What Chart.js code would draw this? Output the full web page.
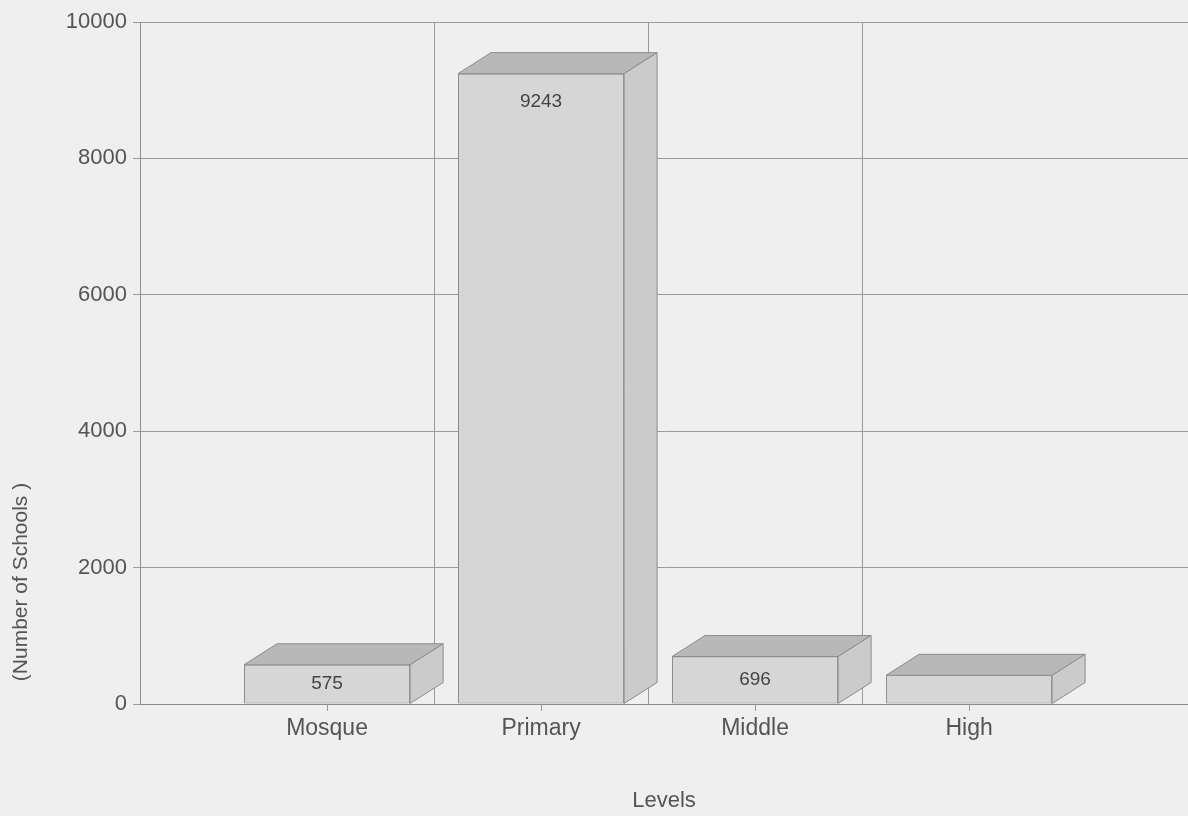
<!DOCTYPE html>
<html>
<head>
<meta charset="utf-8">
<script src="https://cdn.jsdelivr.net/npm/chart.js@4.4.1/dist/chart.umd.min.js"></script>
<style>
  html, body { margin: 0; padding: 0; background: #eeeeee; }
  canvas { display: block; }
</style>
</head>
<body>
<canvas id="c" width="1188" height="816"></canvas>
<script>
// ---- data ----
const categories = ['Mosque', 'Primary', 'Middle', 'High'];
const schoolCounts = [575, 9243, 696, 420];
const showValueLabel = [true, true, true, false];
const yTicks = [0, 2000, 4000, 6000, 8000, 10000];
const yTitle = '(Number of Schools )';
const xTitle = 'Levels';

// ---- style ----
const BG = '#efefef';
const TEXT = '#555555';
const GRID = '#9a9a9a';
const EDGE = '#8c8c8c';
const FRONT = '#d6d6d6';
const TOP = '#b8b8b8';
const SIDE = '#cbcbcb';
const DEPTH_X = 33, DEPTH_Y = -21;
const FONT = "'Liberation Sans', Arial, sans-serif";

const bgPlugin = {
  id: 'bg',
  beforeDraw(chart) {
    const ctx = chart.ctx;
    ctx.save();
    ctx.fillStyle = BG;
    ctx.fillRect(0, 0, chart.width, chart.height);
    ctx.restore();
  }
};

const bar3dPlugin = {
  id: 'bar3d',
  afterDatasetsDraw(chart) {
    const ctx = chart.ctx;
    const meta = chart.getDatasetMeta(0);
    ctx.save();
    ctx.lineWidth = 1;
    ctx.strokeStyle = EDGE;
    ctx.lineJoin = 'miter';
    meta.data.forEach((bar, i) => {
      const p = bar.getProps(['x', 'y', 'base', 'width'], true);
      const l = p.x - p.width / 2, r = p.x + p.width / 2;
      const t = p.y, b = p.base;
      // top face
      ctx.beginPath();
      ctx.moveTo(l, t);
      ctx.lineTo(l + DEPTH_X, t + DEPTH_Y);
      ctx.lineTo(r + DEPTH_X, t + DEPTH_Y);
      ctx.lineTo(r, t);
      ctx.closePath();
      ctx.fillStyle = TOP;
      ctx.fill();
      ctx.stroke();
      // side face
      ctx.beginPath();
      ctx.moveTo(r, t);
      ctx.lineTo(r + DEPTH_X, t + DEPTH_Y);
      ctx.lineTo(r + DEPTH_X, b + DEPTH_Y);
      ctx.lineTo(r, b);
      ctx.closePath();
      ctx.fillStyle = SIDE;
      ctx.fill();
      ctx.stroke();
      // value label
      if (showValueLabel[i]) {
        const ly = Math.min((t + b) / 2, t + 28);
        ctx.fillStyle = '#444444';
        ctx.font = '19px ' + FONT;
        ctx.textAlign = 'center';
        ctx.textBaseline = 'middle';
        ctx.fillText(String(schoolCounts[i]), p.x, ly);
      }
    });
    ctx.restore();
  }
};

const yTitlePlugin = {
  id: 'ytitle',
  afterDraw(chart) {
    const ctx = chart.ctx;
    ctx.save();
    ctx.translate(21, 582);
    ctx.rotate(-Math.PI / 2);
    ctx.fillStyle = TEXT;
    ctx.font = '21px ' + FONT;
    ctx.textAlign = 'center';
    ctx.textBaseline = 'middle';
    ctx.fillText(yTitle, 0, 0);
    ctx.restore();
  }
};

const isHalf = v => Math.abs(Math.abs(v % 1) - 0.5) < 1e-6;
const isCat = v => Math.abs(v - Math.round(v)) < 1e-6 && Math.round(v) >= 0 && Math.round(v) < categories.length;

new Chart(document.getElementById('c'), {
  type: 'bar',
  data: {
    datasets: [{
      data: schoolCounts.map((v, i) => ({ x: i, y: v })),
      backgroundColor: FRONT,
      borderColor: EDGE,
      borderWidth: 1,
      borderSkipped: false,
      categoryPercentage: 1,
      barPercentage: 1.552
    }]
  },
  options: {
    responsive: false,
    animation: false,
    layout: { padding: { top: 22, right: 0, bottom: 0, left: 0 } },
    plugins: { legend: { display: false }, tooltip: { enabled: false } },
    scales: {
      x: {
        type: 'linear',
        offset: false,
        min: -0.874,
        max: 4.023,
        afterFit(s) { s.height = 112; },
        ticks: {
          stepSize: 0.5,
          includeBounds: false,
          autoSkip: false,
          maxRotation: 0,
          padding: 4,
          color: TEXT,
          font: { family: FONT, size: 23 },
          callback: v => isCat(v) ? categories[Math.round(v)] : ''
        },
        grid: {
          offset: false,
          color: c => (c.tick && isHalf(c.tick.value) && c.tick.value > 0 && c.tick.value < categories.length - 1) ? GRID : 'rgba(0,0,0,0)',
          tickColor: c => (c.tick && isCat(c.tick.value)) ? GRID : 'rgba(0,0,0,0)',
          tickLength: 7,
          lineWidth: 1
        },
        border: { display: true, color: EDGE, width: 1 },
        title: {
          display: true,
          text: xTitle,
          color: TEXT,
          font: { family: FONT, size: 22 },
          padding: { top: 4, bottom: 2 }
        }
      },
      y: {
        min: 0,
        max: 10000,
        afterFit(s) { s.width = 140; },
        afterBuildTicks(s) { s.ticks = yTicks.map(v => ({ value: v })); },
        ticks: {
          padding: 6,
          color: TEXT,
          font: { family: FONT, size: 22 },
          callback: v => String(v)
        },
        grid: {
          color: GRID,
          tickColor: GRID,
          tickLength: 7,
          lineWidth: 1
        },
        border: { display: true, color: EDGE, width: 1 }
      }
    }
  },
  plugins: [bgPlugin, bar3dPlugin, yTitlePlugin]
});
</script>
</body>
</html>
